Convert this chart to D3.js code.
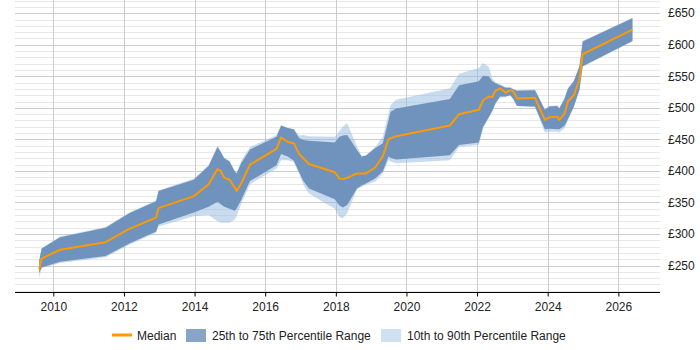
<!DOCTYPE html>
<html>
<head>
<meta charset="utf-8">
<script src="https://cdn.jsdelivr.net/npm/d3@7"></script>
<style>
  body { margin: 0; background: #fff; }
  text { font-family: "Liberation Sans", Arial, sans-serif; }
</style>
</head>
<body>
<script>
const W = 700, H = 350;

// decimal years
const dates = [2009.60, 2009.67, 2010.19, 2011.48, 2012.15, 2012.91, 2012.98, 2013.98, 2014.40, 2014.65,
  2014.74, 2014.84, 2014.99, 2015.13, 2015.19, 2015.32, 2015.57, 2016.32, 2016.45, 2016.64,
  2016.81, 2016.96, 2017.08, 2017.24, 2017.97, 2018.10, 2018.20, 2018.32, 2018.60, 2018.73,
  2018.85, 2019.11, 2019.33, 2019.49, 2019.55, 2019.71, 2021.23, 2021.49, 2022.05, 2022.17,
  2022.33, 2022.43, 2022.52, 2022.65, 2022.81, 2022.94, 2023.03, 2023.13, 2023.64, 2023.92,
  2024.04, 2024.27, 2024.33, 2024.48, 2024.57, 2024.74, 2024.90, 2024.99, 2026.40];
const p10 = [231, 246, 254, 263, 283, 302, 312, 328, 330, 320,
  318, 318, 318, 322, 328, 348, 379, 404, 417, 417,
  414, 395, 378, 364, 340, 327, 325, 333, 371, 375,
  378, 383, 396, 417, 415, 412, 417, 438, 441, 468,
  484, 494, 507, 516, 517, 520, 513, 503, 501, 461,
  462, 462, 461, 468, 480, 501, 528, 565, 605];
const p25 = [238, 247, 256, 265, 285, 304, 315, 334, 343, 351,
  347, 343, 340, 337, 340, 354, 384, 409, 427, 423,
  416, 398, 384, 372, 355, 345, 342, 346, 372, 377,
  380, 388, 399, 423, 421, 418, 425, 441, 445, 470,
  485, 495, 507, 518, 518, 520, 514, 503, 502, 466,
  467, 466, 466, 472, 482, 502, 529, 566, 606];
const median = [244, 261, 275, 287, 308, 326, 341, 360, 379, 403,
  400, 389, 386, 374, 368, 380, 410, 435, 453, 446,
  444, 427, 420, 411, 398, 388, 387, 389, 396, 396,
  396, 405, 423, 450, 452, 455, 472, 490, 497, 512,
  518, 517, 527, 531, 524, 528, 526, 515, 516, 481,
  485, 486, 481, 491, 510, 520, 545, 585, 624];
const p75 = [258, 277, 295, 310, 333, 352, 368, 386, 408, 438,
  430, 420, 415, 400, 396, 412, 434, 454, 472, 468,
  466, 452, 449, 448, 445, 454, 456, 457, 433, 423,
  424, 436, 444, 480, 494, 499, 514, 536, 542, 551,
  550, 542, 539, 536, 532, 532, 529, 527, 528, 497,
  502, 503, 499, 515, 530, 542, 566, 605, 642];
const p90 = [258, 277, 296, 311, 334, 353, 369, 388, 409, 440,
  431, 421, 416, 401, 397, 416, 438, 457, 472, 468,
  466, 456, 457, 455, 454, 463, 470, 476, 439, 424,
  425, 438, 454, 490, 504, 513, 531, 554, 563, 571,
  565, 547, 541, 538, 533, 533, 530, 528, 529, 498,
  503, 504, 500, 516, 531, 543, 567, 606, 643];

const xTicks = [2010, 2012, 2014, 2016, 2018, 2020, 2022, 2024, 2026];
const yTicks = [250, 300, 350, 400, 450, 500, 550, 600, 650];
const legendLabels = ['Median', '25th to 75th Percentile Range', '10th to 90th Percentile Range'];

const rows = dates.map((d, i) => ({d: d, p10: p10[i], p25: p25[i], m: median[i], p75: p75[i], p90: p90[i]}));

const plotL = 15, plotR = 660, plotT = 0, plotB = 292;

const x = d3.scaleLinear().domain([2008.915, 2027.18]).range([plotL, plotR]);
const y = d3.scaleLinear().domain([208, 671]).range([plotB, plotT]);

const svg = d3.select('body').append('svg')
  .attr('width', W)
  .attr('height', H);

// horizontal grid: minor every 10, major every 50
const minor = d3.range(210, 671, 10).filter(v => v % 50 !== 0);
svg.append('g').selectAll('line')
  .data(minor)
  .join('line')
  .attr('x1', plotL).attr('x2', plotR)
  .attr('y1', d => Math.round(y(d)) + 0.5).attr('y2', d => Math.round(y(d)) + 0.5)
  .attr('stroke', '#e8e8e8');

svg.append('g').selectAll('line')
  .data(yTicks)
  .join('line')
  .attr('x1', plotL).attr('x2', plotR)
  .attr('y1', d => Math.round(y(d)) + 0.5).attr('y2', d => Math.round(y(d)) + 0.5)
  .attr('stroke', '#cccccc');

// vertical grid
svg.append('g').selectAll('line')
  .data(xTicks)
  .join('line')
  .attr('x1', d => Math.round(x(d)) + 0.5).attr('x2', d => Math.round(x(d)) + 0.5)
  .attr('y1', plotT).attr('y2', plotB)
  .attr('stroke', '#cccccc');

// bands
const outer = d3.area()
  .x(d => x(d.d))
  .y0(d => y(d.p10))
  .y1(d => y(d.p90));
const inner = d3.area()
  .x(d => x(d.d))
  .y0(d => y(d.p25))
  .y1(d => y(d.p75));

svg.append('path')
  .attr('d', outer(rows))
  .attr('fill', '#94b8e0')
  .attr('fill-opacity', 0.5);
svg.append('path')
  .attr('d', inner(rows))
  .attr('fill', '#6f93bc');

const line = d3.line()
  .x(d => x(d.d))
  .y(d => y(d.m));
svg.append('path')
  .attr('d', line(rows))
  .attr('fill', 'none')
  .attr('stroke', '#ff9900')
  .attr('stroke-width', 2)
  .attr('stroke-linejoin', 'round');

// x axis
const xAxis = svg.append('g')
  .attr('transform', `translate(0,${plotB + 0.5})`)
  .call(d3.axisBottom(x).tickValues(xTicks).tickFormat(d3.format('d')).tickSizeOuter(0).tickSize(4));
xAxis.select('.domain').attr('stroke', '#000').attr('d', `M${plotL},0H${plotR}`);
xAxis.selectAll('.tick line').attr('stroke', '#000');
xAxis.selectAll('text')
  .attr('font-size', 12)
  .attr('font-family', '"Liberation Sans", Arial, sans-serif')
  .attr('fill', '#222')
  .attr('dy', '0.95em');

// y labels on the right
svg.append('g').selectAll('text')
  .data(yTicks)
  .join('text')
  .attr('x', 668)
  .attr('y', d => y(d))
  .attr('dy', '0.35em')
  .attr('font-size', 12)
  .attr('fill', '#222')
  .text(d => '£' + d);

// legend
const lg = svg.append('g').attr('font-size', 12).attr('fill', '#222');
lg.append('line')
  .attr('x1', 112).attr('x2', 132)
  .attr('y1', 335).attr('y2', 335)
  .attr('stroke', '#ff9900').attr('stroke-width', 3);
lg.append('text').attr('x', 137).attr('y', 339.5).text(legendLabels[0]);
lg.append('rect')
  .attr('x', 186).attr('y', 329).attr('width', 20).attr('height', 13)
  .attr('fill', '#88a5c8');
lg.append('text').attr('x', 212).attr('y', 339.5).text(legendLabels[1]);
lg.append('rect')
  .attr('x', 381).attr('y', 329).attr('width', 20).attr('height', 13)
  .attr('fill', '#cfe0f1');
lg.append('text').attr('x', 407).attr('y', 339.5).text(legendLabels[2]);
</script>
</body>
</html>
